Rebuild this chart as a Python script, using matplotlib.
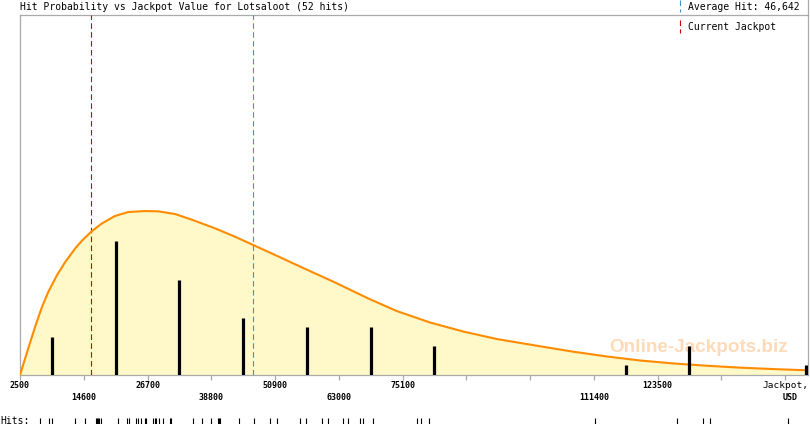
import numpy as np
import matplotlib
matplotlib.use('Agg')
import matplotlib.pyplot as plt
from matplotlib.lines import Line2D
from matplotlib import transforms

''' DATA read off the reference '''
gameName = 'Lotsaloot'
averageHit = 46642
currentJackpot = 16000

# each recorded hit, jackpot value in USD (the rug at the bottom)
hits = [6300, 8060, 8630, 13000,
	14840, 16930, 17110, 17300, 17490, 17820, 21160, 22810, 23250, 24460,
	24950, 25520, 26280, 26470,
	27690, 28070, 28370, 28940, 29700, 31030, 31160, 35280, 37040, 38750,
	40140, 40270, 40460, 44120, 46970, 49950,
	51340, 55640, 56780, 59760, 61020,
	63860, 64810, 67030, 67660, 69440,
	77790, 78550, 80190,
	111640,
	127140, 132190, 133460,
	148320]

# fitted probability curve, scaled to hits per bin
curveX = [2500, 4080, 5350, 6620, 7870, 9470, 11040, 12940, 14210, 16110,
	18010, 20530, 23060, 26230, 28750, 31920, 35090, 39510, 43310, 46780,
	50900, 55640, 62290, 68610, 74000, 80320, 86640, 92980, 101200, 107520,
	113860, 120180, 126500, 132840, 139160, 145480, 151500]
curveY = [0.0, 2.81, 5.01, 7.05, 8.71, 10.40, 11.80, 13.23, 14.04, 15.05,
	15.86, 16.65, 17.07, 17.17, 17.14, 16.86, 16.27, 15.36, 14.48, 13.61,
	12.57, 11.36, 9.69, 8.01, 6.70, 5.50, 4.55, 3.77, 3.01, 2.44,
	1.94, 1.52, 1.21, 0.97, 0.77, 0.62, 0.50]

binStart = 2500
binWidth = 12100
numBins = 13
xMax = 152060
yMax = 37.7

# '' = tick without a label, row 0 / row 1 = upper / lower label line
tickLabels = ['2500', '14600', '26700', '38800', '50900', '63000', '75100',
	'', '', '111400', '123500', '', '']
labelRows = [0, 1, 0, 1, 0, 1, 0, 1, 0, 1, 0, 1, 0]

MONO = 'DejaVu Sans Mono'
GRAY = '#aaaaaa'
ORANGE = '#ff8c00'
FILL = '#fff8c8'
RED = '#cc0000'
BLUE = '#3399cc'


def main():
	W, H = 810, 425
	fig = plt.figure(figsize=(W / 100, H / 100), dpi=100)
	fig.patch.set_facecolor('white')

	ax = fig.add_axes([20 / W, 50 / H, 788 / W, 360 / H])
	ax.set_xlim(binStart, xMax)
	ax.set_ylim(0, yMax)

	# curve + fill
	ax.fill_between(curveX, curveY, 0, color=FILL, lw=0, zorder=1)
	ax.plot(curveX, curveY, color=ORANGE, lw=1.5, zorder=4, solid_joinstyle='round')

	# watermark
	ax.text(0.975, 0.075, 'Online-Jackpots.biz', transform=ax.transAxes,
		ha='right', va='center', fontsize=13.6, fontweight='bold',
		family='Liberation Sans', color='#ffdab9', zorder=2)

	# histogram of hits
	edges = binStart + binWidth * np.arange(numBins + 1)
	counts, _ = np.histogram(hits, bins=edges)
	centers = (edges[:-1] + edges[1:]) / 2
	centers = np.minimum(centers, xMax - 380)
	keep = counts > 0
	ax.vlines(centers[keep], 0, counts[keep], color='black', lw=2.3,
		capstyle='butt', zorder=5)

	# reference lines
	ax.axvline(currentJackpot, color=RED, lw=0.8, ls=(0, (5, 3)), zorder=3)
	ax.axvline(averageHit, color=BLUE, lw=0.8, ls=(0, (5, 3)), zorder=3)

	# axes frame
	for side in ['left', 'right', 'top', 'bottom']:
		ax.spines[side].set_color(GRAY)
		ax.spines[side].set_linewidth(0.9)
	ax.set_yticks([])
	ticks = edges[:-1]
	ax.set_xticks(ticks)
	ax.set_xticklabels([])
	ax.tick_params(axis='x', direction='out', length=3.5, width=0.9, color=GRAY)

	trans = transforms.blended_transform_factory(ax.transData, ax.transAxes)
	for tick, label, row in zip(ticks, tickLabels, labelRows):
		if not label:
			continue
		yOff = -10 / 360 if row == 0 else -22 / 360
		ax.text(tick, yOff, label, transform=trans, ha='center', va='center',
			fontsize=6, fontweight='bold', family=MONO)

	fig.text(808 / W, 1 - 385 / H, 'Jackpot,', ha='right', va='center',
		fontsize=6.8, family=MONO)
	fig.text(790 / W, 1 - 397 / H, 'USD', ha='center', va='center',
		fontsize=6, fontweight='bold', family=MONO)

	# title and legend
	fig.text(20 / W, 1 - 7 / H, 'Hit Probability vs Jackpot Value for %s (%d hits)'
		% (gameName, len(hits)), ha='left', va='center', fontsize=7, family=MONO)
	fig.text(688 / W, 1 - 7 / H, 'Average Hit: {:,}'.format(averageHit),
		ha='left', va='center', fontsize=7, family=MONO)
	fig.text(688 / W, 1 - 27 / H, 'Current Jackpot',
		ha='left', va='center', fontsize=7, family=MONO)
	fig.add_artist(Line2D([680 / W, 680 / W], [1, 1 - 12 / H], color=BLUE,
		lw=0.8, ls=(0, (5, 3))))
	fig.add_artist(Line2D([680 / W, 680 / W], [1 - 20 / H, 1 - 33 / H], color=RED,
		lw=0.8, ls=(0, (5, 3))))
	fig.add_artist(Line2D([807.5 / W, 807.5 / W], [1, 1 - 15 / H], color=GRAY, lw=0.9))

	# rug of individual hits
	fig.text(0, 1 - 421 / H, 'Hits:', ha='left', va='center', fontsize=7, family=MONO)
	rug = fig.add_axes([20 / W, 1 / H, 788 / W, 6 / H])
	rug.set_xlim(binStart, xMax)
	rug.set_ylim(0, 1)
	rug.vlines(hits, 0, 1, color='black', lw=0.8)
	rug.axis('off')

	fig.savefig('out.png', dpi=100)
	print("done!")


if __name__ == '__main__':
	main()
